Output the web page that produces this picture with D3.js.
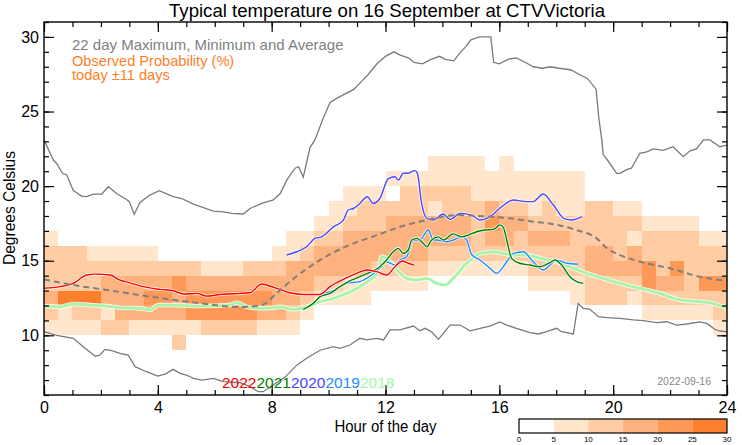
<!DOCTYPE html>
<html><head><meta charset="utf-8">
<script src="https://cdn.jsdelivr.net/npm/d3@7"></script>
<style>
body{margin:0;background:#fff;}
svg{display:block;font-family:"Liberation Sans",Arial,Helvetica,sans-serif;}
</style>
</head><body>
<svg id="chart" width="742" height="445"></svg>
<script>
// ---------- DATA ----------
const titleText = "Typical temperature on 16 September at CTVVictoria";
const xTickLabels = [0, 4, 8, 12, 16, 20, 24];
const yTickLabels = [10, 15, 20, 25, 30];
const probBreaks = [0, 5, 10, 15, 20, 25, 30];
const probColors = ["#ffffff", "#ffe6cd", "#ffcca4", "#feb27d", "#fd9856", "#fc7f2e"];

// Observed probability class per half-hour column (48 columns, 00:00..24:00),
// one digit per 1 °C bin, starting at the bin 8–9 °C and going up to 22–23 °C.
const heatBaseTemp = 8;
const heatColHours = 0.5;
const heatCols = [
  "001232221000000","001152220000000","001252220000000","001252210000000",
  "002133210000000","002333210000000","001333210000000","001343210000000",
  "001343200000000","021334200000000","001443200000000","002443100000000",
  "002443100000000","002443100000000","002443200000000","001343200000000",
  "001333210000000","001233311000000","000123321000000","000012332100000",
  "000012332110000","000011333211000","000011333221000","000001233221000",
  "000001233320100","000001233322100","000001233322100","000000123312110",
  "000000123322110","000000123322110","000000122221110","000000123431100",
  "000000123321110","000000122321100","000001223211100","000001223221100",
  "000001223211100","000011222211100","000022332220000","000022332220000",
  "000022322210000","000012331210000","000124422100000","000123222100000",
  "000123422100000","000122222100000","000124221000000","001224221000000"
];

// 22 day maximum / minimum / average  [hour, °C]
const maxTemp = [[0,23.1],[0.33,21.75],[0.45,21.5],[0.65,20.86],[0.8,20.75],[1.03,19.7],[1.32,19.33],[1.5,19.3],[1.73,19.47],[2.03,19.47],[2.26,19.96],[2.55,19.5],[2.9,19.1],[3.0,18.96],[3.17,18.1],[3.37,18.9],[3.72,19.4],[4.05,19.7],[4.54,19.3],[4.84,19.17],[5.25,18.8],[5.95,18.33],[6.3,18.28],[6.6,18.17],[7.0,18.13],[7.24,18.5],[7.65,18.84],[8.06,19.07],[8.3,19.5],[8.53,20.4],[8.82,21.2],[8.95,21.3],[9.11,20.6],[9.35,22.6],[9.52,23.1],[9.8,24.5],[10.05,25.6],[10.3,25.9],[10.6,26.2],[10.9,26.5],[11.1,26.9],[11.4,27.5],[11.7,28.2],[12.0,28.7],[12.3,29.0],[12.5,28.8],[12.8,28.6],[13.0,28.3],[13.3,28.2],[13.6,28.5],[13.9,28.7],[14.1,28.5],[14.4,28.4],[14.6,28.9],[14.8,29.3],[15.0,29.8],[15.3,30.0],[15.7,30.0],[15.8,28.3],[16.0,28.2],[16.3,28.5],[16.6,28.6],[16.9,28.3],[17.2,28.0],[17.5,27.9],[17.8,28.0],[18.1,27.9],[18.5,27.8],[18.8,27.5],[19.1,27.2],[19.4,26.5],[19.5,24.5],[19.6,23.1],[19.65,22.1],[19.8,21.75],[20.12,20.86],[20.24,20.86],[20.47,21.1],[20.64,21.2],[20.94,22.2],[21.18,22.3],[21.41,22.5],[21.76,22.4],[22.11,22.64],[22.46,21.97],[22.7,22.37],[22.93,22.5],[23.17,23.1],[23.4,23.1],[23.75,22.64],[24,22.75]];
const minTemp = [[0,10.24],[0.45,10.0],[1.03,9.8],[1.38,9.24],[1.8,8.6],[1.97,8.68],[2.14,9.06],[2.38,8.97],[2.67,8.79],[2.96,8.68],[3.2,7.9],[3.6,7.56],[4.0,7.27],[4.25,7.4],[4.54,7.72],[4.78,7.45],[5.0,7.34],[5.25,7.11],[5.54,7.0],[5.95,7.11],[6.3,6.9],[6.9,6.82],[7.24,6.56],[7.53,6.22],[7.7,6.22],[8.06,6.67],[8.47,7.2],[8.88,8.0],[9.23,8.46],[9.7,9.0],[10.17,9.24],[10.4,9.13],[10.75,9.35],[11.1,9.8],[11.34,9.69],[11.69,9.8],[11.93,9.69],[12.16,10.36],[12.51,10.36],[12.98,10.62],[13.21,10.3],[13.39,10.47],[13.62,10.24],[13.86,9.73],[14.03,10.13],[14.27,10.69],[14.62,10.69],[14.97,10.3],[15.32,10.47],[15.67,10.62],[16.02,10.9],[16.26,10.69],[16.6,10.47],[17.08,10.18],[17.37,10.09],[17.66,10.24],[18.01,10.47],[18.19,10.24],[18.6,10.09],[18.77,12.14],[18.95,11.8],[19.18,11.74],[19.48,11.25],[19.77,11.18],[20.24,11.14],[20.71,11.03],[21.06,10.98],[21.53,10.85],[21.88,10.91],[22.23,10.69],[22.58,10.76],[23.05,10.9],[23.29,10.8],[23.58,10.4],[23.75,10.29],[24,10.24]];
const avgTemp = [[0,13.75],[1.03,13.37],[2.2,13.04],[3.7,12.6],[5.1,12.25],[6.9,11.9],[7.6,12.0],[8.3,13.04],[8.64,13.6],[9.8,15.16],[10.6,15.94],[11.7,16.72],[12.74,17.4],[13.56,17.77],[14.5,18.06],[15.3,18.0],[16.37,17.84],[17.08,17.65],[17.9,17.45],[18.7,17.06],[19.42,16.5],[19.8,15.8],[20.24,15.38],[20.94,14.93],[22.0,14.49],[23.05,13.93],[24,13.66]];

// Individual years [hour, °C]
const years = ["2022", "2021", "2020", "2019", "2018"];
const yearColors = ["#ff0000", "#008000", "#4646ff", "#1e8cff", "#a6f5a6"];
const t2022 = [[0,13.15],[0.56,13.26],[1.03,13.48],[1.5,14.04],[1.8,14.1],[2.32,14.04],[2.67,13.7],[3.02,13.52],[3.49,13.26],[4.08,13.08],[4.54,12.99],[4.9,12.77],[5.37,12.81],[5.72,12.63],[6.18,12.74],[6.89,12.81],[7.24,12.85],[7.65,13.44],[8.06,13.22],[8.3,13.08],[8.64,12.85],[9.11,12.74],[9.7,12.74],[10.05,13.26],[10.52,13.75],[11.04,14.2],[11.34,14.38],[11.69,14.27],[12.04,14.04],[12.33,14.6],[12.6,14.98],[12.8,14.83],[13.0,14.7]];
const t2021 = [[9.11,11.74],[9.46,12.14],[9.7,12.59],[10.05,12.81],[10.4,13.26],[10.69,13.6],[11.1,13.93],[11.51,14.27],[11.8,14.6],[12.04,15.05],[12.27,15.6],[12.45,15.83],[12.62,15.49],[12.8,15.72],[12.92,16.39],[13.1,16.5],[13.33,16.16],[13.45,15.94],[13.62,16.39],[13.86,16.6],[14.03,16.39],[14.38,16.8],[14.68,16.6],[14.91,16.72],[15.2,16.94],[15.5,17.06],[15.79,17.1],[16.02,17.4],[16.14,17.24],[16.26,16.39],[16.43,15.16],[16.72,14.83],[17.08,14.71],[17.43,14.6],[17.78,14.87],[17.96,15.05],[18.19,14.71],[18.48,13.93],[18.72,13.6],[18.95,13.48]];
const t2020 = [[8.53,15.38],[8.88,15.6],[9.23,15.94],[9.52,16.5],[9.76,16.6],[10.17,17.27],[10.52,17.72],[10.69,18.4],[10.87,18.5],[11.1,18.84],[11.36,19.29],[11.57,18.84],[11.8,19.17],[12.1,20.5],[12.33,20.63],[12.45,20.4],[12.62,20.86],[12.8,20.86],[13.04,21.04],[13.12,20.86],[13.27,18.84],[13.45,17.84],[13.68,17.73],[14.03,18.13],[14.27,17.77],[14.62,18.17],[15.03,18.06],[15.32,17.73],[15.67,17.95],[16.08,18.62],[16.49,19.07],[16.96,18.96],[17.19,18.96],[17.54,19.47],[17.9,18.73],[18.3,17.8],[18.54,17.73],[18.9,17.95]];
const t2019 = [[9.7,12.81],[10.05,12.92],[10.64,13.48],[11.1,13.6],[11.51,14.04],[11.8,14.49],[12.04,14.93],[12.33,14.71],[12.51,15.05],[12.74,15.27],[12.98,16.39],[13.21,16.39],[13.5,17.06],[13.68,16.39],[13.8,16.39],[14.15,16.27],[14.38,16.39],[14.68,16.6],[14.85,16.39],[15.03,15.4],[15.32,15.05],[15.61,14.6],[15.9,14.16],[16.26,14.93],[16.49,15.49],[16.84,15.6],[17.19,14.93],[17.54,14.38],[17.78,14.71],[18.0,15.05],[18.37,14.83],[18.77,14.76]];
const t2018 = [[0,11.96],[0.56,11.91],[1.03,12.1],[1.62,12.03],[2.2,11.96],[2.67,11.85],[3.37,11.81],[3.72,11.7],[4.02,12.03],[4.54,12.03],[5.48,11.96],[6.54,12.03],[6.77,12.19],[7.12,11.91],[7.59,11.81],[8.06,11.85],[8.3,11.91],[8.76,11.74],[9.23,11.91],[9.7,12.25],[10.17,12.48],[10.64,12.81],[11.1,13.26],[11.45,13.7],[11.75,14.27],[11.87,15.27],[12.04,15.16],[12.27,14.71],[12.51,14.16],[12.74,13.82],[13.1,13.7],[13.45,13.82],[13.8,13.48],[14.09,13.37],[14.38,13.82],[14.85,14.82],[15.08,15.16],[15.32,15.49],[15.79,15.6],[16.49,15.38],[16.96,15.38],[17.43,15.16],[18.0,14.93],[18.6,14.49],[19.07,14.16],[19.65,13.82],[20.24,13.48],[20.94,13.15],[21.64,12.81],[22.35,12.37],[23.05,12.25],[23.5,12.14],[24,11.81]];
const yearSeries = [t2022, t2021, t2020, t2019, t2018];
const runDate = "2022-09-16";

// ---------- DRAW ----------
const svg = d3.select("#chart");
const W = 742, H = 445;
const plot = {left: 44, right: 727, top: 22, bottom: 395};
const x = d3.scaleLinear().domain([0, 24]).range([plot.left, plot.right]);
const y = d3.scaleLinear().domain([6, 31]).range([plot.bottom, plot.top]);

svg.append("rect").attr("width", W).attr("height", H).attr("fill", "#fff");

svg.append("defs").append("clipPath").attr("id", "clip")
  .append("rect").attr("x", plot.left).attr("y", plot.top)
  .attr("width", plot.right - plot.left).attr("height", plot.bottom - plot.top);

const gPlot = svg.append("g").attr("clip-path", "url(#clip)");

// heat map cells
const cells = [];
heatCols.forEach((s, c) => {
  s.split("").forEach((ch, i) => {
    const lev = +ch;
    if (lev > 0) cells.push({h0: c * heatColHours, h1: (c + 1) * heatColHours, t0: heatBaseTemp + i, t1: heatBaseTemp + i + 1, lev});
  });
});
gPlot.append("g").attr("shape-rendering", "crispEdges").selectAll("rect").data(cells).join("rect")
  .attr("x", d => x(d.h0)).attr("width", d => x(d.h1) - x(d.h0))
  .attr("y", d => y(d.t1)).attr("height", d => y(d.t0) - y(d.t1))
  .attr("fill", d => probColors[d.lev]);

const lineLin = d3.line().x(d => x(d[0])).y(d => y(d[1]));
const lineSmooth = d3.line().x(d => x(d[0])).y(d => y(d[1])).curve(d3.curveMonotoneX);

// max / min lines
[maxTemp, minTemp].forEach(arr => {
  gPlot.append("path").attr("d", lineLin(arr)).attr("fill", "none")
    .attr("stroke", "#fff").attr("stroke-width", 2.6).attr("stroke-opacity", 0.8);
  gPlot.append("path").attr("d", lineLin(arr)).attr("fill", "none")
    .attr("stroke", "#7a7a7a").attr("stroke-width", 1.3);
});

// year lines, oldest drawn first
for (let k = yearSeries.length - 1; k >= 0; k--) {
  const wide = years[k] === "2018";
  gPlot.append("path").attr("d", lineSmooth(yearSeries[k])).attr("fill", "none")
    .attr("stroke", "#fff").attr("stroke-width", wide ? 4.5 : 3).attr("stroke-opacity", 0.85);
  gPlot.append("path").attr("d", lineSmooth(yearSeries[k])).attr("fill", "none")
    .attr("stroke", yearColors[k]).attr("stroke-width", wide ? 2.8 : 1.4);
}

// average dashed
gPlot.append("path").attr("d", lineSmooth(avgTemp)).attr("fill", "none")
  .attr("stroke", "#7f7f7f").attr("stroke-width", 2).attr("stroke-dasharray", "6,4");

// axes
const minorX = d3.range(0, 25, 1), minorY = d3.range(6, 32, 1);
function axisG(gen, tx, ty) { return svg.append("g").attr("transform", `translate(${tx},${ty})`).call(gen); }
const axes = [
  axisG(d3.axisBottom(x).tickValues(minorX).tickSize(-5).tickFormat(""), 0, plot.bottom),
  axisG(d3.axisBottom(x).tickValues(xTickLabels).tickSize(-10).tickPadding(7).tickFormat(d3.format("d")), 0, plot.bottom),
  axisG(d3.axisTop(x).tickValues(minorX).tickSize(-5).tickFormat(""), 0, plot.top),
  axisG(d3.axisTop(x).tickValues(xTickLabels).tickSize(-10).tickFormat(""), 0, plot.top),
  axisG(d3.axisLeft(y).tickValues(minorY).tickSize(-5).tickFormat(""), plot.left, 0),
  axisG(d3.axisLeft(y).tickValues(yTickLabels).tickSize(-10).tickPadding(5).tickFormat(d3.format("d")), plot.left, 0),
  axisG(d3.axisRight(y).tickValues(minorY).tickSize(-5).tickFormat(""), plot.right, 0),
  axisG(d3.axisRight(y).tickValues(yTickLabels).tickSize(-10).tickFormat(""), plot.right, 0)
];
axes.forEach(g => {
  g.select(".domain").remove();
  g.selectAll("line").attr("stroke", "#000").attr("stroke-width", 1.2);
  g.selectAll("text").attr("fill", "#000").attr("font-size", 16).attr("font-family", "Liberation Sans, Arial, sans-serif");
});
svg.append("rect").attr("x", plot.left).attr("y", plot.top)
  .attr("width", plot.right - plot.left).attr("height", plot.bottom - plot.top)
  .attr("fill", "none").attr("stroke", "#000").attr("stroke-width", 1.4);

// titles
svg.append("text").attr("x", 387).attr("y", 17).attr("text-anchor", "middle")
  .attr("font-size", 18.5).attr("textLength", 436).attr("lengthAdjust", "spacingAndGlyphs")
  .text(titleText);
svg.append("text").attr("x", (plot.left + plot.right) / 2).attr("y", 432).attr("text-anchor", "middle")
  .attr("font-size", 16).attr("textLength", 102).attr("lengthAdjust", "spacingAndGlyphs").text("Hour of the day");
svg.append("text").attr("transform", "translate(15,208) rotate(-90)").attr("text-anchor", "middle")
  .attr("font-size", 16).attr("textLength", 114).attr("lengthAdjust", "spacingAndGlyphs").text("Degrees Celsius");

// legend text
svg.append("text").attr("x", 72).attr("y", 50).attr("font-size", 15).attr("fill", "#808080")
  .text("22 day Maximum, Minimum and Average");
svg.append("text").attr("x", 72).attr("y", 66).attr("font-size", 14.6).attr("fill", "#ff7f27")
  .text("Observed Probability (%)");
svg.append("text").attr("x", 72).attr("y", 80).attr("font-size", 14.6).attr("fill", "#ff7f27")
  .text("today \u00b111 days");

// year labels
const yl = svg.append("text").attr("x", 222).attr("y", 388).attr("font-size", 15.5);
years.forEach((yr, k) => yl.append("tspan").attr("fill", yearColors[k]).text(yr));

svg.append("text").attr("x", 711).attr("y", 385).attr("text-anchor", "end")
  .attr("font-size", 10.5).attr("fill", "#8a8a8a").text(runDate);

// colour bar
const cb = d3.scaleLinear().domain([0, 30]).range([519, 727]);
const cbG = svg.append("g");
cbG.selectAll("rect").data(probColors).join("rect")
  .attr("x", (d, i) => cb(probBreaks[i])).attr("width", (d, i) => cb(probBreaks[i + 1]) - cb(probBreaks[i]))
  .attr("y", 419).attr("height", 14).attr("fill", d => d);
cbG.append("rect").attr("x", cb(0)).attr("y", 419).attr("width", cb(30) - cb(0)).attr("height", 14)
  .attr("fill", "none").attr("stroke", "#000").attr("stroke-width", 1.2);
cbG.selectAll("text").data(probBreaks).join("text")
  .attr("x", d => cb(d)).attr("y", 442).attr("text-anchor", "middle").attr("font-size", 8)
  .text(d => d);
</script>
</body></html>
